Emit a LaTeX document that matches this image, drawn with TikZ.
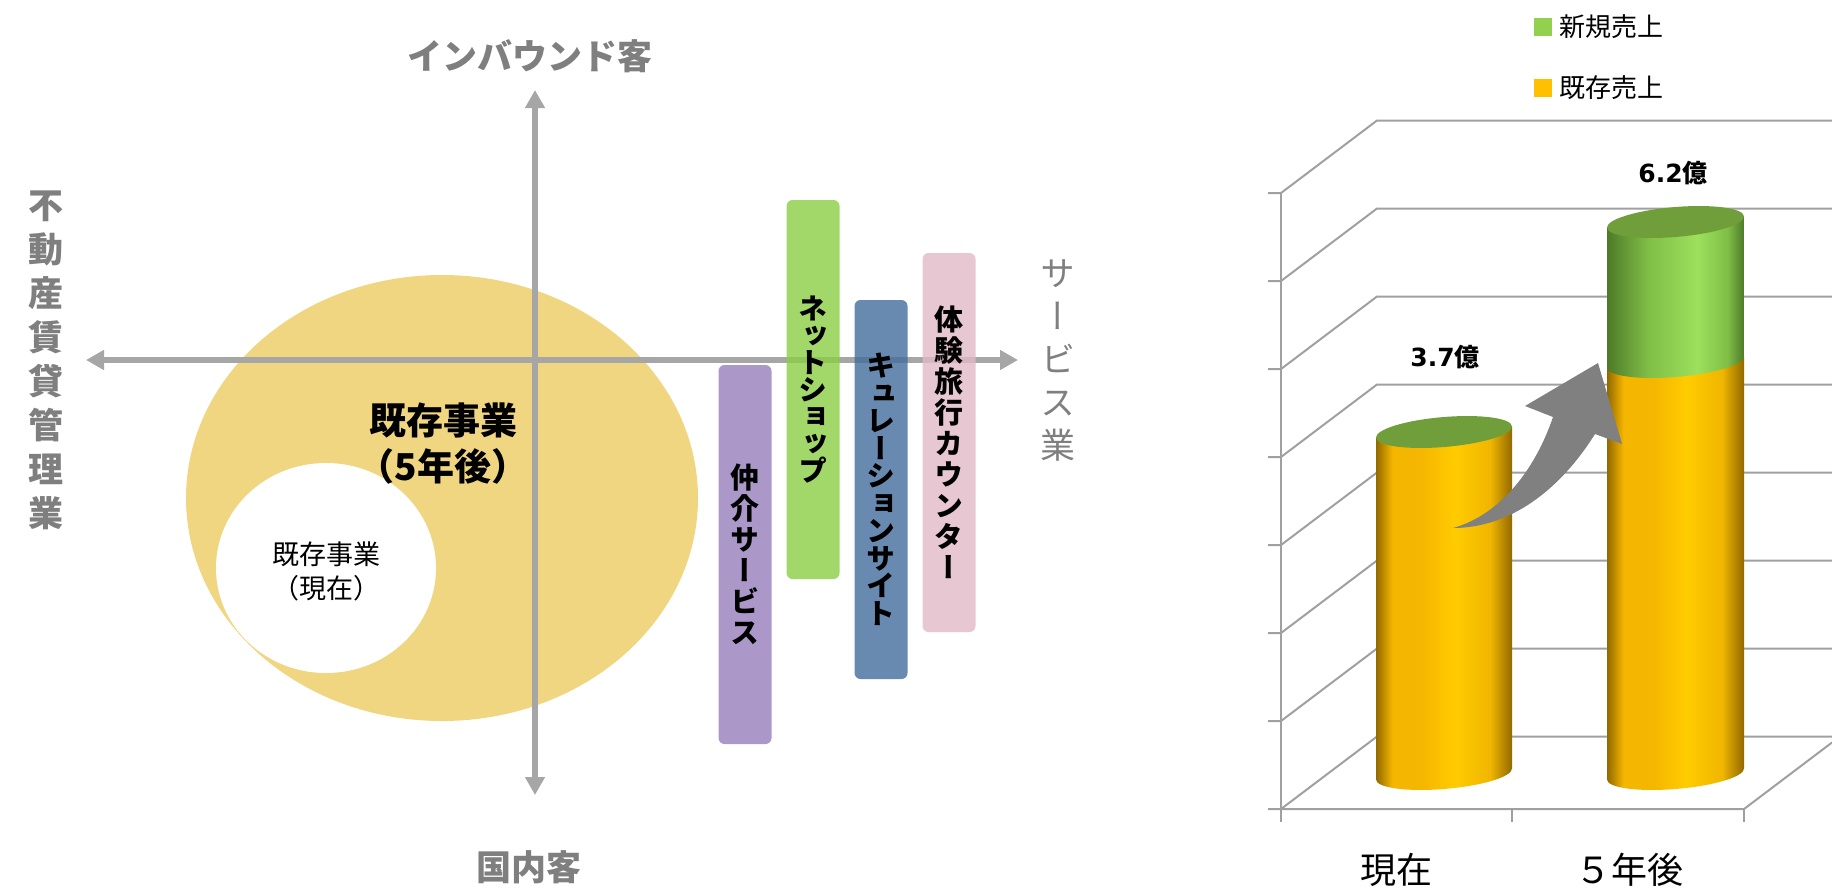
\documentclass[tikz,border=0pt]{standalone}
\usepackage{fontspec}
\setmainfont{Noto Sans CJK JP}
\newfontfamily\tatefont{Noto Sans CJK JP}[RawFeature=+vert]
\newfontfamily\verdfont{DejaVu Sans}
\usetikzlibrary{arrows.meta,positioning}

\definecolor{axisgray}{RGB}{166,166,166}
\definecolor{labelgray}{RGB}{127,127,127}
\definecolor{gridgray}{RGB}{160,160,160}
\definecolor{bizgold}{RGB}{240,214,128}
\definecolor{barpurple}{RGB}{150,126,188}
\definecolor{bargreen}{RGB}{139,206,69}
\definecolor{barblue}{RGB}{66,109,156}
\definecolor{barpink}{RGB}{224,185,199}
\definecolor{legendgreen}{RGB}{146,208,80}
\definecolor{legendgold}{RGB}{255,192,0}
\definecolor{capgreen}{RGB}{112,158,58}
\definecolor{gold0}{RGB}{145,105,0}
\definecolor{gold1}{RGB}{245,182,0}
\definecolor{gold2}{RGB}{255,204,0}
\definecolor{gold3}{RGB}{240,182,0}
\definecolor{green0}{RGB}{78,122,40}
\definecolor{green1}{RGB}{128,190,70}
\definecolor{green2}{RGB}{156,224,92}
\definecolor{arrowgray}{RGB}{128,128,128}

\pgfdeclarehorizontalshading{goldside}{100bp}{color(0bp)=(gold0); color(25bp)=(gold0);
  color(31bp)=(gold1); color(42bp)=(gold1); color(54bp)=(gold2); color(67bp)=(gold3);
  color(75bp)=(gold0); color(100bp)=(gold0)}
\pgfdeclarehorizontalshading{greenside}{100bp}{color(0bp)=(green0); color(25bp)=(green0);
  color(40bp)=(green1); color(58bp)=(green2); color(69bp)=(green1);
  color(75bp)=(green0); color(100bp)=(green0)}

\begin{document}
\begin{tikzpicture}[x=1pt,y=-1pt,
    axisline/.style={draw=axisgray,line width=6pt,
      {Triangle[length=18pt,width=19pt]}-{Triangle[length=18pt,width=19pt]}},
    axislabel/.style={text=labelgray,inner sep=0pt,align=center,
      font=\bfseries\fontsize{35}{44}\selectfont},
    bizbar/.style={rounded corners=6pt,minimum width=53pt,minimum height=379pt,
      inner sep=0pt,align=center,fill opacity=0.8,text opacity=1},
    bartext/.style={font=\tatefont\bfseries\fontsize{29}{#1}\selectfont},
    grid/.style={draw=gridgray,line width=2pt},
    legendkey/.style={minimum size=18pt,inner sep=0pt},
    legendtext/.style={inner sep=0pt,font=\fontsize{26}{26}\selectfont},
    catlabel/.style={inner sep=0pt,font=\fontsize{36}{36}\selectfont},
    valuelabel/.style={inner sep=0pt,font=\bfseries\fontsize{25}{25}\selectfont}]
  \useasboundingbox (0,0) rectangle (1832,887);

  % positioning map
  \fill[bizgold] (442,498) ellipse [x radius=256, y radius=223];
  \fill[white] (326,568) ellipse [x radius=110, y radius=105];
  \node[inner sep=0pt,align=center,font=\fontsize{27}{34}\selectfont] (nowbiz) at (326,571) {既存事業\\（現在）};
  \node[inner sep=0pt,align=center,font=\bfseries\fontsize{37}{46}\selectfont] (futurebiz) at (443,444) {既存事業\\（5年後）};

  \coordinate (west) at (86,360);
  \coordinate (east) at (1018,360);
  \coordinate (north) at (535,90);
  \coordinate (south) at (535,795);
  \draw[axisline] (west) -- (east);
  \draw[axisline] (north) -- (south);

  \node[axislabel] (inbound) at (530,56) {インバウンド客};
  \node[axislabel] (domestic) at (529,867) {国内客};
  \node[axislabel,font=\tatefont\bfseries\fontsize{35}{44}\selectfont] (realestate) at (46,360) {不\\動\\産\\賃\\貸\\管\\理\\業};
  \node[axislabel,font=\tatefont\fontsize{35}{43}\selectfont] (service) at (1058,360) {サ\\ー\\ビ\\ス\\業};

  \node[bizbar,bartext=31,fill=barpurple] (chukai) at (745,554.5) {仲\\介\\サ\\ー\\ビ\\ス};
  \node[bizbar,bartext=27,fill=bargreen] (netshop) at (813,389.5) {ネ\\ッ\\ト\\シ\\ョ\\ッ\\プ};
  \node[bizbar,bartext=27.5,fill=barblue] (curation) at (881,489.5) {キ\\ュ\\レ\\ー\\シ\\ョ\\ン\\サ\\イ\\ト};
  \node[bizbar,bartext=31,fill=barpink] (taiken) at (949,442.5) {体\\験\\旅\\行\\カ\\ウ\\ン\\タ\\ー};

  % sales chart
  \node[legendkey,fill=legendgreen] (newkey) at (1543,27) {};
  \node[legendtext,right=7pt of newkey] (newsales) {新規売上};
  \node[legendkey,fill=legendgold] (oldkey) at (1543,88) {};
  \node[legendtext,right=7pt of oldkey] (oldsales) {既存売上};

  \foreach \i in {0,...,7} {
    \draw[grid] (1268,193+88*\i) -- (1281,193+88*\i) -- (1377,120.5+88*\i) -- (1832,120.5+88*\i);
  }
  \draw[grid] (1281,193) -- (1281,822);
  \draw[grid] (1281,809) -- (1744,809) -- (1832,742.5);
  \foreach \x in {1512,1744} {
    \draw[grid] (\x,809) -- (\x,822);
  }
  \node[catlabel] (now) at (1396,870) {現在};
  \node[catlabel] (later) at (1629,870) {５年後};

  \begin{scope}[shift={(1444,0)},yslant=0.08]
    \shade[shading=goldside] (-68,432) -- (-68,774) arc [start angle=180, end angle=0, x radius=68, y radius=15] -- (68,432) -- cycle;
    \fill[capgreen] (0,432) ellipse [x radius=68, y radius=15];
  \end{scope}
  \begin{scope}[shift={(1675.5,0)},yslant=0.08]
    \shade[shading=goldside] (-68.5,362) -- (-68.5,774) arc [start angle=180, end angle=0, x radius=68.5, y radius=15] -- (68.5,362) -- cycle;
    \shade[shading=greenside] (-68.5,222) -- (-68.5,362) arc [start angle=180, end angle=0, x radius=68.5, y radius=15] -- (68.5,222) -- cycle;
    \fill[capgreen] (0,222) ellipse [x radius=68.5, y radius=15];
  \end{scope}
  \node[valuelabel] (nowvalue) at (1445,357) {{\verdfont 3.7}億};
  \node[valuelabel] (latervalue) at (1673,173) {{\verdfont 6.2}億};

  \fill[arrowgray] (1453,528) .. controls (1500,515) and (1535,470) .. (1553,417)
    -- (1525,406) -- (1598,363) -- (1622,444) -- (1595,434)
    .. controls (1560,490) and (1510,528) .. (1453,528) -- cycle;
\end{tikzpicture}
\end{document}
